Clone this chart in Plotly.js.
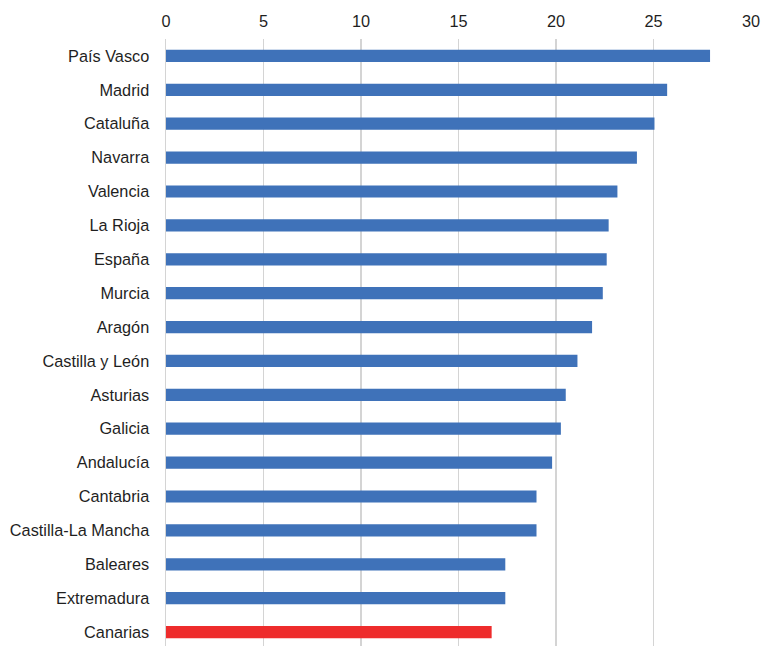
<!DOCTYPE html>
<html>
<head>
<meta charset="utf-8">
<script src="https://cdn.plot.ly/plotly-3.0.1.min.js"></script>
<style>
  html, body { margin: 0; padding: 0; background: #ffffff; overflow: hidden; }
  #chart { width: 762px; height: 649px; }
</style>
</head>
<body>
<div id="chart"></div>
<script>
const regions = ["País Vasco", "Madrid", "Cataluña", "Navarra", "Valencia", "La Rioja", "España", "Murcia", "Aragón", "Castilla y León", "Asturias", "Galicia", "Andalucía", "Cantabria", "Castilla-La Mancha", "Baleares", "Extremadura", "Canarias"];
const values = [27.9, 25.7, 25.05, 24.15, 23.15, 22.7, 22.6, 22.4, 21.85, 21.1, 20.5, 20.25, 19.8, 19.0, 19.0, 17.4, 17.4, 16.7];
const highlighted = "Canarias";
const tickValues = [0, 5, 10, 15, 20, 25, 30];

const blue = "#3f72b9";
const red = "#ee2c2c";
const colors = regions.map(r => r === highlighted ? red : blue);

const trace = {
  type: "bar",
  orientation: "h",
  x: values,
  y: regions,
  marker: { color: colors, line: { width: 0 } },
  hoverinfo: "x+y"
};

const layout = {
  width: 762,
  height: 649,
  margin: { l: 166, r: 11, t: 39, b: 0, pad: 0 },
  paper_bgcolor: "#ffffff",
  plot_bgcolor: "#ffffff",
  bargap: 0.64,
  showlegend: false,
  font: { family: "Liberation Sans, Arial, sans-serif", size: 16.3, color: "#1f1f1f" },
  xaxis: {
    side: "top",
    range: [0, 30],
    tickvals: tickValues,
    ticktext: tickValues.map(String),
    showgrid: true,
    gridcolor: "#d4d4d4",
    gridwidth: 1.5,
    zeroline: false,
    showline: false,
    ticks: "",
    ticklabelstandoff: 8,
    tickfont: { size: 16.3, color: "#1f1f1f" },
    fixedrange: true
  },
  yaxis: {
    type: "category",
    autorange: "reversed",
    showgrid: false,
    zeroline: false,
    showline: true,
    linecolor: "#d4d4d4",
    linewidth: 1.5,
    ticks: "",
    ticklabelstandoff: 12,
    tickfont: { size: 16.3, color: "#1f1f1f" },
    fixedrange: true
  }
};

Plotly.newPlot("chart", [trace], layout, { displayModeBar: false, staticPlot: true });
</script>
</body>
</html>
